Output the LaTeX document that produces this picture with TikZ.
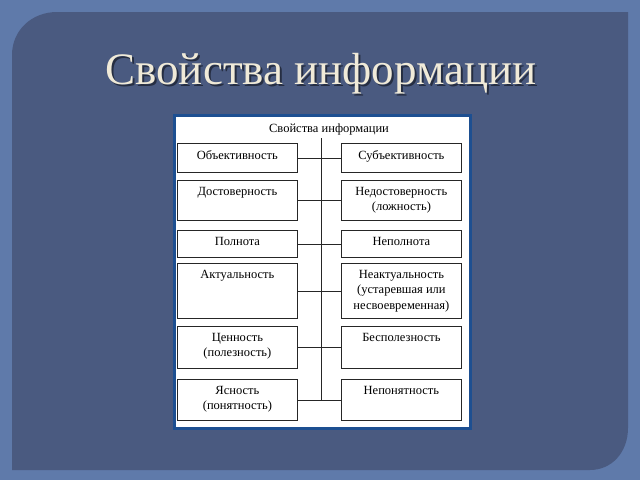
\documentclass[tikz,border=0pt]{standalone}
\usepackage{fontspec}
\setmainfont{Liberation Serif}
\definecolor{outerbg}{HTML}{5F7AAA}
\definecolor{panelbg}{HTML}{4A5A80}
\definecolor{titlecol}{HTML}{F0EAD8}
\definecolor{shadowcol}{HTML}{262E42}
\definecolor{framecol}{HTML}{1D4F91}
\begin{document}
\begin{tikzpicture}[x=1pt,y=-1pt,
  box/.style={draw=black!85, line width=0.8pt, fill=white, inner sep=0pt, anchor=north west, minimum width=120pt},
  btxt/.style={anchor=north, align=center, font=\fontsize{12.5}{15.5}\selectfont, inner sep=0pt},
  conn/.style={draw=black!85, line width=0.8pt}]
\useasboundingbox (0,0) rectangle (640,480);
\fill[outerbg] (0,0) rectangle (640,480);
\fill[panelbg] (12,470) -- (12,55) .. controls (12,30) and (32,12) .. (57,12) -- (628,12) -- (628,428) .. controls (628,452) and (612,470) .. (590,470) -- cycle;
% title with shadow
\node[anchor=base, font=\fontsize{45}{50}\selectfont, inner sep=0pt] (title) at (321,84)
  {\rlap{\raisebox{-2pt}{\hspace{2pt}\textcolor{shadowcol}{Свойства информации}}}\textcolor{titlecol}{Свойства информации}};
% frame
\node[draw=framecol, line width=3pt, fill=white, anchor=north west, minimum width=296pt, minimum height=313pt, inner sep=0pt] (frame) at (173,114) {};
\node[btxt] (ftitle) at (329,124) {Свойства информации};
% boxes
\node[box, minimum height=29pt] (l1) at (177,143) {};
\node[box, minimum height=29pt] (r1) at (341,143) {};
\node[box, minimum height=40pt] (l2) at (177,180) {};
\node[box, minimum height=40pt] (r2) at (341,180) {};
\node[box, minimum height=27pt] (l3) at (177,230) {};
\node[box, minimum height=27pt] (r3) at (341,230) {};
\node[box, minimum height=55pt] (l4) at (177,263) {};
\node[box, minimum height=55pt] (r4) at (341,263) {};
\node[box, minimum height=42pt] (l5) at (177,326) {};
\node[box, minimum height=42pt] (r5) at (341,326) {};
\node[box, minimum height=41pt] (l6) at (177,379) {};
\node[box, minimum height=41pt] (r6) at (341,379) {};
% texts
\node[btxt] (tl1) at ([yshift=-7pt]l1.north) {Объективность};
\node[btxt] (tr1) at ([yshift=-7pt]r1.north) {Субъективность};
\node[btxt] (tl2) at ([yshift=-7pt]l2.north) {Достоверность};
\node[btxt] (tr2) at ([yshift=-7pt]r2.north) {Недостоверность\\(ложность)};
\node[btxt] (tl3) at ([yshift=-7pt]l3.north) {Полнота};
\node[btxt] (tr3) at ([yshift=-7pt]r3.north) {Неполнота};
\node[btxt] (tl4) at ([yshift=-7pt]l4.north) {Актуальность};
\node[btxt] (tr4) at ([yshift=-7pt]r4.north) {Неактуальность\\(устаревшая или\\несвоевременная)};
\node[btxt] (tl5) at ([yshift=-7pt]l5.north) {Ценность\\(полезность)};
\node[btxt] (tr5) at ([yshift=-7pt]r5.north) {Бесполезность};
\node[btxt] (tl6) at ([yshift=-7pt]l6.north) {Ясность\\(понятность)};
\node[btxt] (tr6) at ([yshift=-7pt]r6.north) {Непонятность};
% connectors
\coordinate (vtop) at (321,138);
\coordinate (vbot) at (321,400);
\draw[conn] (vtop) -- (vbot);
\draw[conn] (l1.east) -- (r1.west);
\draw[conn] (l2.east) -- (r2.west);
\draw[conn] (l3.east) -- (r3.west);
\draw[conn] (l4.east) -- (r4.west);
\draw[conn] (l5.east) -- (r5.west);
\draw[conn] (l6.east) -- (r6.west);
\end{tikzpicture}
\end{document}
